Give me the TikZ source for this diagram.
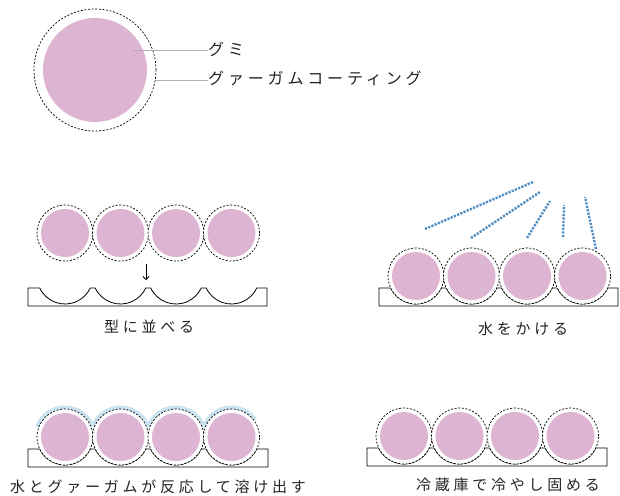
\documentclass[tikz,border=0pt]{standalone}
\usepackage{fontspec}
\newfontfamily\jp[LetterSpace=25]{Noto Sans CJK JP}
\newfontfamily\jpt[LetterSpace=24]{Noto Sans CJK JP}
\usetikzlibrary{arrows.meta,calc}
\definecolor{gumipink}{RGB}{221,180,209}
\definecolor{leadgray}{RGB}{175,175,175}
\definecolor{waterblue}{RGB}{80,142,196}
\definecolor{meltblue}{RGB}{200,226,240}
\definecolor{txt}{RGB}{35,35,35}
\tikzset{
  gumi/.style={circle,inner sep=0pt,minimum size=48pt,fill=gumipink},
  coat/.style={circle,inner sep=0pt,minimum size=56pt,draw=black,fill=white,line width=0.7pt,dash pattern=on 2pt off 1.6pt},
  biggumi/.style={circle,inner sep=0pt,minimum size=104pt,fill=gumipink},
  bigcoat/.style={circle,inner sep=0pt,minimum size=122pt,draw=black,fill=white,line width=0.7pt,dash pattern=on 2pt off 1.6pt},
  leader/.style={draw=leadgray,line width=0.6pt},
  label/.style={font=\jp\fontsize{15pt}{15pt}\selectfont,text=txt,inner sep=0pt},
  toplabel/.style={font=\jpt\fontsize{16pt}{16pt}\selectfont,text=txt,inner sep=0pt},
  tray/.style={draw=black,line width=0.8pt,fill=white},
  water/.style={draw=waterblue,line width=2.4pt,dash pattern=on 2.2pt off 1.3pt},
  melt/.style={draw=meltblue,line width=4pt},
}
\newcommand{\traypath}[4]{% left, top, right, first centre
  \path[tray] (#1,-#2)
    -- ($(#4,-#2)+(-25.3,0)$) arc[start angle=205.38,end angle=334.62,radius=28pt]
    -- ($(#4+55.5,-#2)+(-25.3,0)$) arc[start angle=205.38,end angle=334.62,radius=28pt]
    -- ($(#4+111,-#2)+(-25.3,0)$) arc[start angle=205.38,end angle=334.62,radius=28pt]
    -- ($(#4+166.5,-#2)+(-25.3,0)$) arc[start angle=205.38,end angle=334.62,radius=28pt]
    -- (#3,-#2) -- (#3,-#2-18) -- (#1,-#2-18) -- cycle;}
\begin{document}
\begin{tikzpicture}[x=1pt,y=1pt]
\useasboundingbox[fill=white] (0,0) rectangle (620,-495);

% ---------- top: legend ----------
\node[bigcoat] (topcoat) at (95,-70) {};
\node[biggumi] (topgumi) at (95,-70) {};
\node[toplabel,anchor=west] (lgumi) at (208,-49) {グミ};
\node[toplabel,anchor=west] (lcoat) at (208,-78) {グァーガムコーティング};
\coordinate (pg) at (133,-50);
\coordinate (pc) at (155,-80);
\draw[leader] (pg) -- (lgumi.west |- pg);
\draw[leader] (pc) -- (lcoat.west |- pc);

% ---------- panel 2 ----------
\foreach \i/\cx in {1/65,2/120.5,3/176,4/231.5}{
  \node[coat] (bc\i) at (\cx,-233) {};
  \node[gumi] (bg\i) at (\cx,-233) {};
}
\traypath{28}{288}{267}{65}
\coordinate (arA) at (146,-264);
\coordinate (arB) at (146,-280);
\draw[line width=0.8pt,-{Straight Barb[length=3pt,width=6pt]}] (arA) -- (arB);
\node[label] (t2) at (149,-327) {型に並べる};

% ---------- panel 3 ----------
\traypath{379}{288}{618}{416}
\foreach \i/\cx in {1/416,2/471.5,3/527,4/582.5}{
  \node[coat] (cc\i) at (\cx,-276) {};
  \node[gumi] (cg\i) at (\cx,-276) {};
}
\coordinate (w1a) at (425,-229); \coordinate (w1b) at (533,-182);
\coordinate (w2a) at (471,-238); \coordinate (w2b) at (540,-192);
\coordinate (w3a) at (527,-238); \coordinate (w3b) at (550,-201);
\coordinate (w4a) at (563,-237); \coordinate (w4b) at (564,-205);
\coordinate (w5a) at (596,-249); \coordinate (w5b) at (585,-197);
\foreach \k in {1,...,5}{\draw[water] (w\k a) -- (w\k b);}
\node[label] (t3) at (523,-329) {水をかける};

% ---------- panel 4 ----------
\traypath{28}{449}{268}{65}
\coordinate (m1) at (65,-437);
\coordinate (m2) at (120.5,-437);
\coordinate (m3) at (176,-437);
\coordinate (m4) at (231.5,-437);
\draw[melt] (m1) ++(19.8:29.5pt) arc[start angle=19.8,end angle=160,radius=29.5pt];
\draw[melt] (m2) ++(19.8:29.5pt) arc[start angle=19.8,end angle=160.2,radius=29.5pt];
\draw[melt] (m3) ++(19.8:29.5pt) arc[start angle=19.8,end angle=160.2,radius=29.5pt];
\draw[melt] (m4) ++(36:29.5pt) arc[start angle=36,end angle=160.2,radius=29.5pt];
\foreach \i in {1,...,4}{
  \node[coat] (dc\i) at (m\i) {};
  \node[gumi] (dg\i) at (m\i) {};
}
\node[label] (t4) at (158,-487) {水とグァーガムが反応して溶け出す};

% ---------- panel 5 ----------
\traypath{367}{448}{607}{404}
\foreach \i/\cx in {1/404,2/459.5,3/515,4/570.5}{
  \node[coat] (ec\i) at (\cx,-436) {};
  \node[gumi] (eg\i) at (\cx,-436) {};
}
\node[label] (t5) at (508,-485) {冷蔵庫で冷やし固める};
\end{tikzpicture}
\end{document}
